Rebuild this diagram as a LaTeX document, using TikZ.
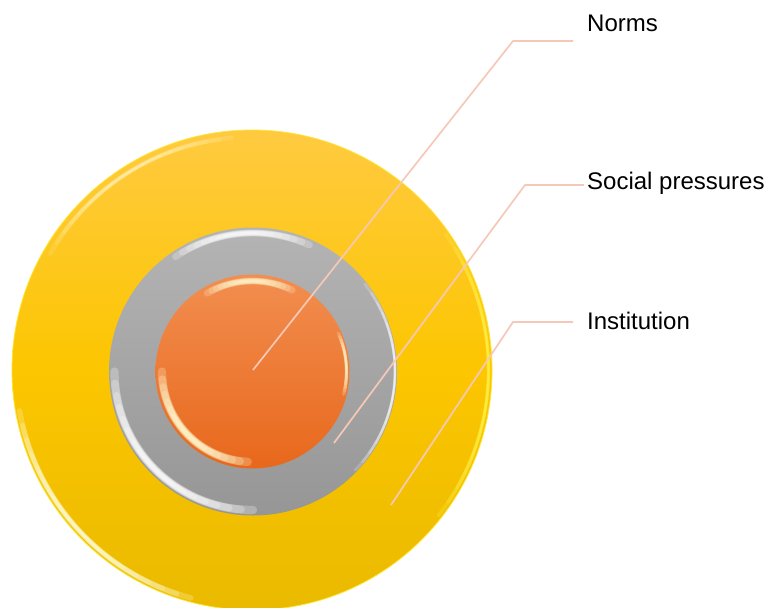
\documentclass[tikz,border=0pt]{standalone}
\usepackage{fontspec}
\setmainfont{Liberation Sans}
\definecolor{yelTop}{RGB}{255,202,64}
\definecolor{yelMid}{RGB}{252,198,0}
\definecolor{yelBot}{RGB}{234,186,0}
\definecolor{yelRim}{RGB}{255,242,70}
\definecolor{grayTop}{RGB}{180,180,180}
\definecolor{grayBot}{RGB}{150,150,150}
\definecolor{oraTop}{RGB}{242,142,80}
\definecolor{oraBot}{RGB}{232,104,28}
\definecolor{leadc}{RGB}{246,200,184}
\definecolor{glowY}{RGB}{255,252,210}
% soft glossy arc, built from stacked translucent arcs that fade
% towards the ends: centre, radius, start, end, colour, width, opacity
\newcommand\gleam[7]{%
  \foreach \k in {0,...,7}{%
    \pgfmathsetmacro\gA{#3+0.055*\k*(#4-#3)}%
    \pgfmathsetmacro\gB{#4-0.055*\k*(#4-#3)}%
    \pgfmathsetmacro\gW{2.3-0.2*\k}%
    \draw[line cap=round, draw=#5, line width=\gW*#6, opacity=0.26*#7]
      (#1) ++(\gA:#2) arc[start angle=\gA, end angle=\gB, radius=#2];
  }%
}
\begin{document}
\begin{tikzpicture}[x=1pt, y=-1pt,
  disc/.style={circle, inner sep=0pt, minimum size=#1},
  leader/.style={draw=leadc, line width=1.7pt},
  caption/.style={anchor=base west, inner sep=0pt,
    font=\fontsize{24}{28}\selectfont, text=black}]
\useasboundingbox (0,0) rectangle (767,607);
\clip (0,0) rectangle (767,607);

% outer disc
\node[disc=480pt, top color=yelTop, bottom color=yelBot, middle color=yelMid,
      draw=yelRim!70!yelMid, line width=0.8pt] (outer) at (252,370) {};
\coordinate (oc) at (252,370);
\gleam{oc}{236}{105}{170}{glowY}{2.4pt}{1}
\gleam{oc}{236.5}{-35}{38}{yelRim}{1.6pt}{0.9}
\gleam{oc}{233}{-150}{-95}{glowY}{2pt}{0.5}

% middle ring
\node[disc=288pt, top color=grayTop, bottom color=grayBot] (ring) at (253,371.5) {};
\coordinate (gc) at (253,371.5);
\gleam{gc}{138.5}{-124}{-66}{white}{3pt}{0.9}
\gleam{gc}{138.5}{90}{180}{white}{3.6pt}{1}
\gleam{gc}{142}{-38}{44}{white}{1.3pt}{0.75}

% core disc
\node[disc=194pt, top color=oraTop, bottom color=oraBot] (core) at (252.5,371.5) {};
\coordinate (cc) at (252.5,371.5);
\gleam{cc}{90.5}{-120}{-64}{glowY}{3pt}{0.85}
\gleam{cc}{90.5}{93}{180}{glowY}{3.6pt}{1}
\gleam{cc}{94}{-24}{14}{glowY}{1.5pt}{0.85}

% captions
\node[caption] (norms) at (587,32) {Norms};
\node[caption] (social) at (587,189) {Social pressures};
\node[caption] (inst) at (587,329) {Institution};

% leader lines
\coordinate (nA) at (253,370);
\coordinate (nB) at (513,41);
\coordinate (nC) at ([xshift=-14pt]norms.west);
\coordinate (sA) at (334,443);
\coordinate (sB) at (525,185);
\coordinate (sC) at ([xshift=-3pt]social.west);
\coordinate (iA) at (391,505);
\coordinate (iB) at (513,322);
\coordinate (iC) at ([xshift=-14pt]inst.west);
\draw[leader] (nA) -- (nB) -- (nB -| nC);
\draw[leader] (sA) -- (sB) -- (sB -| sC);
\draw[leader] (iA) -- (iB) -- (iB -| iC);
\end{tikzpicture}
\end{document}
